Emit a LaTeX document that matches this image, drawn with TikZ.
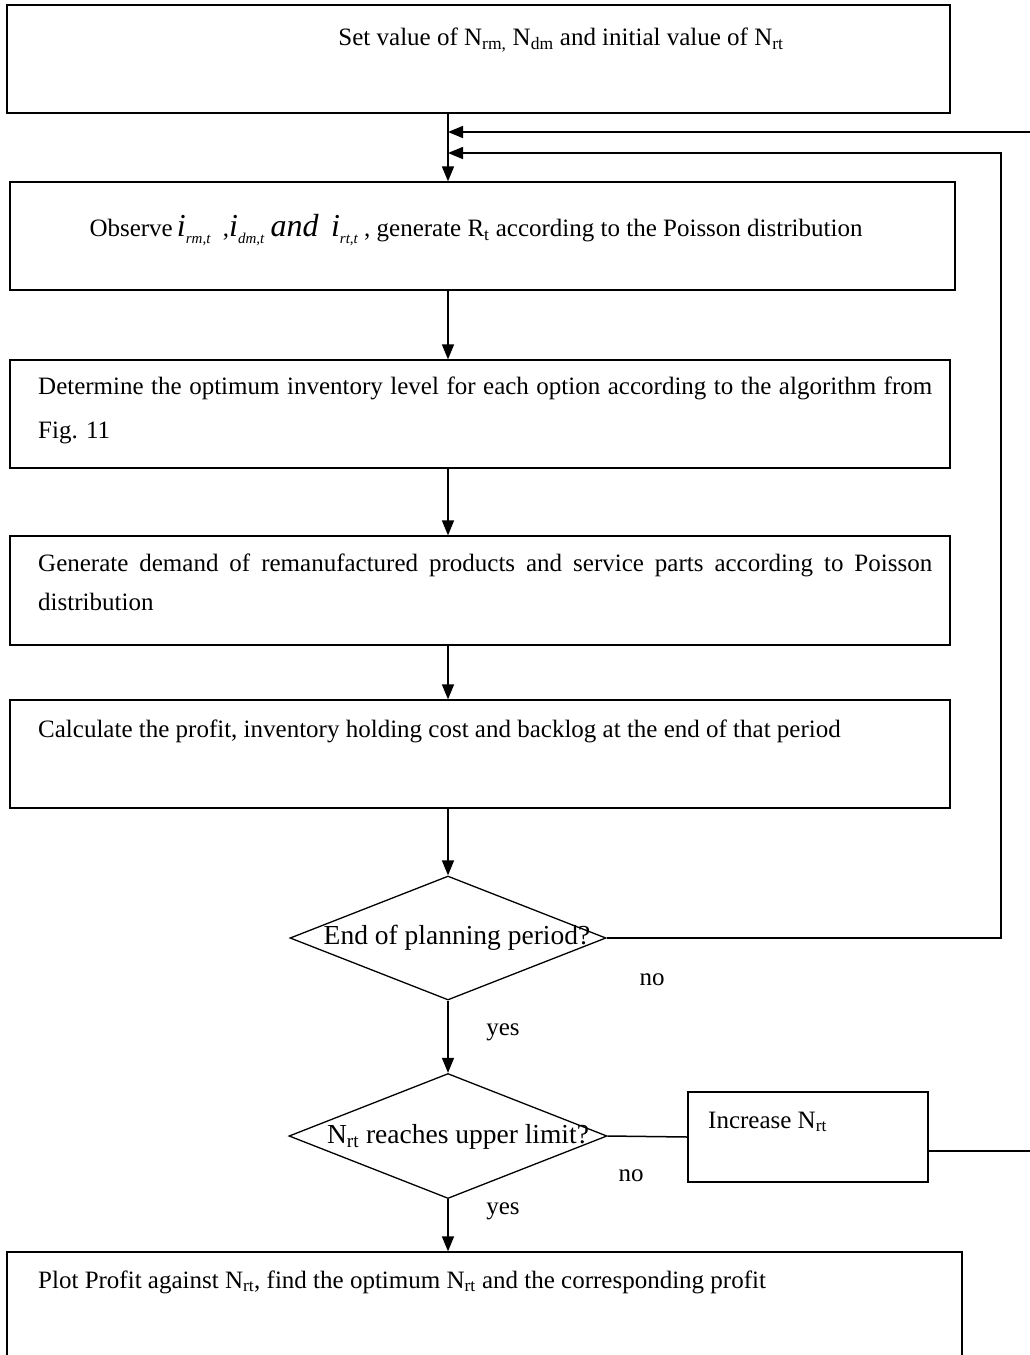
\documentclass[tikz,border=0pt]{standalone}
\usepackage{fontspec}
\setmainfont{Liberation Serif}
\usetikzlibrary{shapes.geometric,arrows.meta}
\newcommand\fs{\fontsize{25}{30}\selectfont}
\newcommand\iv[1]{{\fontsize{32}{32}\selectfont\itshape i}\raisebox{-0.55ex}{\fontsize{15}{15}\selectfont\itshape #1}}
\begin{document}
\begin{tikzpicture}[x=1pt,y=-1pt,
  box/.style={draw, line width=1.3pt, rectangle, inner sep=0pt},
  dia/.style={draw, line width=1.3pt, diamond, inner sep=0pt},
  txt/.style={inner sep=0pt, font=\fs},
  dtxt/.style={inner sep=0pt, font=\fontsize{27.5}{32}\selectfont},
  conn/.style={line width=1.5pt},
  arr/.style={line width=1.5pt, -{Triangle[length=15pt,width=12pt]}}]
\useasboundingbox (0,0) rectangle (1030,1355);
\coordinate (mx) at (448,0);
% boxes
\node[box, minimum width=943pt, minimum height=108pt] (b1) at (478.5,59) {};
\node[txt] (t1) at (561,40) {Set value of N\textsubscript{rm,} N\textsubscript{dm} and initial value of N\textsubscript{rt}};
\node[box, minimum width=945pt, minimum height=108pt] (b2) at (482.5,236) {};
\node[txt] (t2) at (476,230) {Observe\,\iv{rm,t}\ \ ,\iv{dm,t} {\fontsize{32}{32}\selectfont\itshape and}\ \ \iv{rt,t}\ , generate R\textsubscript{t} according to the Poisson distribution};
\node[box, minimum width=940pt, minimum height=108pt] (b3) at (480,414) {};
\node[txt, text width=894pt, align=justify, anchor=north west, font=\fontsize{25}{44}\selectfont] (t3) at (38,377) {Determine the optimum inventory level for each option according to the algorithm from\linebreak Fig. 11};
\node[box, minimum width=940pt, minimum height=109pt] (b4) at (480,590.5) {};
\node[txt, text width=894pt, align=justify, anchor=north west, font=\fontsize{25}{39}\selectfont] (t4) at (38,554) {Generate demand of remanufactured products and service parts according to Poisson\linebreak distribution};
\node[box, minimum width=940pt, minimum height=108pt] (b5) at (480,754) {};
\node[txt, anchor=west] (t5) at (38,731) {Calculate the profit, inventory holding cost and backlog at the end of that period};
% decisions
\node[dia, minimum width=316pt, minimum height=124pt] (d1) at (448,938) {};
\node[dtxt] (t6) at (457,938) {End of planning period?};
\node[dia, minimum width=318pt, minimum height=125pt] (d2) at (448,1136) {};
\node[dtxt] (t7) at (458,1137) {N\textsubscript{rt} reaches upper limit?};
\node[box, minimum width=240pt, minimum height=90pt] (inc) at (808,1137) {};
\node[txt, anchor=west] (t8) at (708,1122) {Increase N\textsubscript{rt}};
\node[box, minimum width=955pt, minimum height=130pt] (b6) at (484.5,1317) {};
\node[txt, anchor=west] (t9) at (38,1282) {Plot Profit against N\textsubscript{rt}, find the optimum N\textsubscript{rt} and the corresponding profit};
% labels
\node[txt] (no1) at (652,980) {no};
\node[txt] (yes1) at (503,1032) {yes};
\node[txt] (no2) at (631,1176) {no};
\node[txt] (yes2) at (503,1211) {yes};
% connectors
\coordinate (j1) at (448,153);
\coordinate (j2) at (448,132);
\coordinate (r1) at (1001,153);
\coordinate (r2) at (1040,132);
\draw[arr] (mx |- b1.south) -- (mx |- b2.north);
\draw[arr] (mx |- b2.south) -- (mx |- b3.north);
\draw[arr] (mx |- b3.south) -- (mx |- b4.north);
\draw[arr] (mx |- b4.south) -- (mx |- b5.north);
\draw[arr] (mx |- b5.south) -- (d1.north);
\draw[arr] (d1.south) -- (d2.north);
\draw[arr] (d2.south) -- (mx |- b6.north);
\draw[arr] (d1.east) -| (r1) -- (j1);
\draw[conn] (d2.east) -- (inc.west);
\draw[arr] ([yshift=-14pt]inc.east) -| (r2) -- (j2);
\end{tikzpicture}
\end{document}
